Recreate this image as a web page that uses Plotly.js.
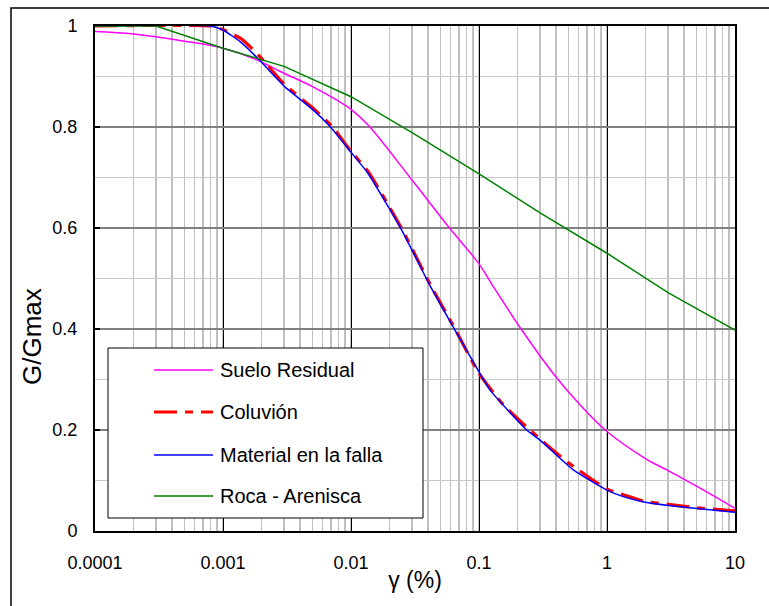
<!DOCTYPE html>
<html>
<head>
<meta charset="utf-8">
<script src="https://cdn.plot.ly/plotly-3.0.1.min.js"></script>
<style>html,body{margin:0;padding:0;background:#fff;}#chart{width:769px;height:606px;}</style>
</head>
<body>
<div id="chart"></div>
<script>
// ---- Data ----
const seriesNames = ['Suelo Residual', 'Coluvión', 'Material en la falla', 'Roca - Arenisca'];

const sueloX = [0.0001, 0.0002, 0.0005, 0.001, 0.0018, 0.0028, 0.005, 0.0073, 0.01, 0.0136, 0.0306, 0.0593, 0.1, 0.125, 0.216, 0.38, 0.615, 1, 1.98, 2.93, 5.33, 10];
const sueloY = [0.989, 0.984, 0.970, 0.956, 0.934, 0.910, 0.880, 0.857, 0.835, 0.804, 0.692, 0.599, 0.529, 0.490, 0.398, 0.312, 0.250, 0.197, 0.144, 0.121, 0.085, 0.045];

const coluvionX = [0.0001, 0.0008, 0.001, 0.0014, 0.002, 0.003, 0.005, 0.007, 0.01, 0.0136, 0.025, 0.0414, 0.065, 0.1, 0.155, 0.3, 0.5, 1, 1.5, 2, 3, 5, 10];
const coluvionY = [1.0, 1.0, 0.993, 0.974, 0.936, 0.885, 0.838, 0.803, 0.752, 0.712, 0.598, 0.489, 0.400, 0.312, 0.250, 0.182, 0.135, 0.083, 0.068, 0.058, 0.053, 0.046, 0.040];

const fallaX = [0.0001, 0.0008, 0.001, 0.00136, 0.0019, 0.003, 0.005, 0.00686, 0.01, 0.0136, 0.0249, 0.0414, 0.0649, 0.1, 0.122, 0.236, 0.3, 0.546, 1, 1.34, 1.98, 3.7, 10];
const fallaY = [1.0, 1.0, 0.992, 0.969, 0.934, 0.881, 0.835, 0.801, 0.750, 0.708, 0.596, 0.486, 0.398, 0.315, 0.279, 0.200, 0.180, 0.121, 0.081, 0.068, 0.057, 0.048, 0.037];

const rocaX = [0.0001, 0.0003, 0.001, 0.003, 0.01, 0.03, 0.1, 0.3, 1, 3, 10];
const rocaY = [1.0, 1.0, 0.956, 0.92, 0.86, 0.789, 0.707, 0.63, 0.55, 0.472, 0.398];

const xTickVals = [0.0001, 0.001, 0.01, 0.1, 1, 10];
const xTickText = ['0.0001', '0.001', '0.01', '0.1', '1', '10'];
const yTickVals = [0, 0.2, 0.4, 0.6, 0.8, 1];
const yTickText = ['0', '0.2', '0.4', '0.6', '0.8', '1'];

const xTitle = 'γ (%)';
const yTitle = 'G/Gmax';

// ---- Styles ----
const colors = ['#FF00FF', '#FF0000', '#0000FF', '#008000'];
const widths = [1.5, 3.2, 1.5, 1.5];
const dashes = ['solid', '23px,8px,8px,8px', 'solid', 'solid'];
const shapesOfLine = ['spline', 'spline', 'spline', 'linear'];
const smooth = [1.0, 0.5, 0.5, 0];
const FONT = 'Liberation Sans, Arial, sans-serif';

const W = 769, H = 606;
const M = {l: 95, r: 34, t: 26, b: 75};
const PW = W - M.l - M.r, PH = H - M.t - M.b;
const px2x = p => (p - M.l) / PW;
const px2y = p => (H - M.b - p) / PH;

const xs = [sueloX, coluvionX, fallaX, rocaX];
const ys = [sueloY, coluvionY, fallaY, rocaY];
const order = [0, 1, 2, 3];

const traces = order.map(i => {
  const ln = {color: colors[i], width: widths[i], dash: dashes[i], shape: shapesOfLine[i]};
  if (shapesOfLine[i] === 'spline') ln.smoothing = smooth[i];
  return {
    type: 'scatter', mode: 'lines', name: seriesNames[i],
    x: xs[i], y: ys[i], showlegend: false, line: ln, hoverinfo: 'skip'
  };
});

// ---- Manual legend (box, samples, labels) ----
const legBox = {x0: 108, y0: 348, x1: 423, y1: 518};
const legRows = [370, 412, 455, 496];
const shapes = [
  {type: 'rect', xref: 'paper', yref: 'paper', x0: px2x(11), x1: px2x(790), y0: px2y(8), y1: px2y(640),
   line: {color: '#000', width: 1.5}, fillcolor: 'rgba(0,0,0,0)', layer: 'below'},
  {type: 'rect', xref: 'paper', yref: 'paper', x0: px2x(legBox.x0), x1: px2x(legBox.x1),
   y0: px2y(legBox.y1), y1: px2y(legBox.y0), line: {color: '#000', width: 1}, fillcolor: '#fff', layer: 'above'}
];
const annotations = [];
seriesNames.forEach((name, i) => {
  shapes.push({type: 'line', xref: 'paper', yref: 'paper', x0: px2x(154), x1: px2x(213),
    y0: px2y(legRows[i]), y1: px2y(legRows[i]), line: {color: colors[i], width: widths[i], dash: dashes[i]}, layer: 'above'});
  annotations.push({xref: 'paper', yref: 'paper', x: px2x(218), y: px2y(legRows[i]), text: name,
    showarrow: false, xanchor: 'left', yanchor: 'middle', font: {family: FONT, size: 20, color: '#000'}});
});
annotations.push({xref: 'paper', yref: 'paper', x: px2x(32), y: px2y(337), text: yTitle, textangle: -90,
  showarrow: false, xanchor: 'center', yanchor: 'middle', font: {family: FONT, size: 26, color: '#000'}});

const layout = {
  width: W, height: H, margin: M,
  paper_bgcolor: '#fff', plot_bgcolor: '#fff',
  font: {family: FONT, color: '#000'},
  showlegend: false,
  xaxis: {
    type: 'log', range: [-4, 1], tickmode: 'array', tickvals: xTickVals, ticktext: xTickText,
    showgrid: true, gridcolor: '#000', gridwidth: 1,
    showline: true, linecolor: '#000', linewidth: 2, mirror: true,
    ticks: '', tickfont: {family: FONT, size: 18, color: '#000'}, ticklabelstandoff: 14,
    minor: {tickmode: 'linear', dtick: 'D1', showgrid: true, gridcolor: '#c0c0c0', gridwidth: 1.5, ticks: ''},
    title: {text: xTitle, font: {family: FONT, size: 23, color: '#000'}, standoff: 0},
    zeroline: false
  },
  yaxis: {
    range: [0, 1], tickmode: 'array', tickvals: yTickVals, ticktext: yTickText,
    showgrid: true, gridcolor: '#808080', gridwidth: 1.5,
    showline: true, linecolor: '#000', linewidth: 2, mirror: true,
    ticks: 'inside', ticklen: 5, tickwidth: 2, tickcolor: '#000',
    tickfont: {family: FONT, size: 18, color: '#000'}, ticklabelstandoff: 12,
    minor: {tickmode: 'linear', tick0: 0, dtick: 0.1, showgrid: true, gridcolor: '#c8c8c8', gridwidth: 1.5, ticks: ''},
    zeroline: false
  },
  shapes: shapes,
  annotations: annotations
};

Plotly.newPlot('chart', traces, layout, {staticPlot: true, displayModeBar: false});
</script>
</body>
</html>
